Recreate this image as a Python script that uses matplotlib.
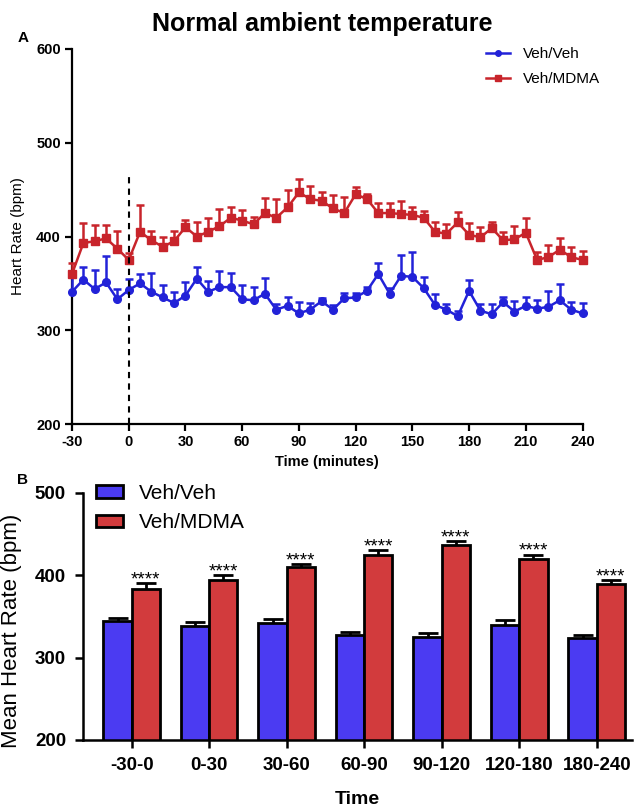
import numpy as np
import matplotlib
matplotlib.use("Agg")
import matplotlib.pyplot as plt
from matplotlib.lines import Line2D
from matplotlib.patches import Patch

plt.rcParams["font.family"] = ["Liberation Sans", "DejaVu Sans"]
plt.rcParams["axes.unicode_minus"] = False

# ---- Panel A: heart rate time course ----
time_min = [-30, -24, -18, -12, -6, 0, 6, 12, 18, 24, 30, 36, 42, 48, 54, 60,
            66, 72, 78, 84, 90, 96, 102, 108, 114, 120, 126, 132, 138, 144,
            150, 156, 162, 168, 174, 180, 186, 192, 198, 204, 210, 216, 222,
            228, 234, 240]

veh_veh_mean = [341, 354, 344, 351, 333, 343, 350, 341, 335, 329, 337, 355,
                341, 346, 346, 333, 332, 339, 322, 326, 318, 322, 331, 322,
                334, 335, 342, 360, 339, 358, 357, 345, 327, 322, 315, 342,
                321, 317, 330, 320, 326, 323, 325, 332, 322, 318]
veh_veh_sem = [22, 14, 20, 28, 11, 12, 10, 20, 13, 12, 14, 12, 12, 17, 15, 15,
               14, 17, 6, 10, 12, 7, 3, 5, 6, 5, 4, 12, 6, 22, 27, 12, 12, 6,
               6, 12, 7, 11, 5, 11, 10, 9, 17, 17, 8, 11]

veh_mdma_mean = [360, 393, 395, 398, 387, 375, 405, 396, 389, 395, 410, 400,
                 405, 411, 420, 417, 413, 425, 420, 431, 447, 440, 438, 430,
                 425, 445, 440, 425, 425, 424, 423, 420, 405, 403, 415, 402,
                 399, 409, 396, 397, 404, 375, 378, 386, 378, 375]
veh_mdma_sem = [12, 21, 17, 14, 19, 7, 29, 10, 11, 11, 8, 16, 15, 18, 11, 11,
                8, 16, 20, 19, 14, 14, 10, 14, 17, 8, 5, 11, 11, 14, 8, 7, 10,
                10, 11, 12, 11, 7, 9, 14, 16, 9, 13, 12, 11, 10]

# ---- Panel B: binned means ----
bins = ["-30-0", "0-30", "30-60", "60-90", "90-120", "120-180", "180-240"]
bin_veh_mean = [344, 338.5, 342, 327.5, 325.5, 339.5, 324]
bin_veh_sem = [4.5, 4.5, 4.5, 4, 4, 5.5, 3.5]
bin_mdma_mean = [383, 394, 410, 424, 437, 420, 389]
bin_mdma_sem = [7.5, 6, 4, 6, 4.5, 5, 5.5]
signif = ["****"] * 7

BLUE = "#2222d8"
RED = "#c8242b"
BAR_BLUE = "#4b3bf2"
BAR_RED = "#d23b3d"

W, H = 641, 810
fig = plt.figure(figsize=(W / 100, H / 100), dpi=100)


def frame(left, top, right, bottom):
    return [left / W, 1 - bottom / H, (right - left) / W, (bottom - top) / H]


def hide_lower_caps(caplines, base):
    for cl in caplines:
        if np.allclose(cl.get_ydata(), base):
            cl.set_visible(False)


# ================= Panel A =================
ax1 = fig.add_axes(frame(72, 49, 582.5, 424))
t = np.array(time_min)
for mean, sem, col, mk, ms, lab in [
    (veh_veh_mean, veh_veh_sem, BLUE, "o", 5.5, "Veh/Veh"),
    (veh_mdma_mean, veh_mdma_sem, RED, "s", 5.5, "Veh/MDMA"),
]:
    mean = np.array(mean, float)
    sem = np.array(sem, float)
    _, caps, bars = ax1.errorbar(t, mean, yerr=[np.zeros_like(sem), sem],
                                 fmt="none", ecolor=col, elinewidth=1.8,
                                 capsize=3, capthick=1.8, zorder=3)
    hide_lower_caps(caps, mean)
    for c in caps:
        c.set_clip_on(False)
    for b in bars:
        b.set_clip_on(False)
    ax1.plot(t, mean, color=col, lw=1.8, marker=mk, ms=ms, label=lab,
             zorder=4, clip_on=False)

ax1.plot([0, 0], [200, 463], color="black", lw=1.5, ls=(0, (3, 2.5)),
         zorder=5, clip_on=False)

ax1.set_xlim(-30, 240)
ax1.set_ylim(200, 600)
ax1.set_xticks(np.arange(-30, 241, 30))
ax1.set_yticks(np.arange(200, 601, 100))
for s in ["top", "right"]:
    ax1.spines[s].set_visible(False)
for s in ["left", "bottom"]:
    ax1.spines[s].set_linewidth(1.6)
ax1.tick_params(width=1.6, length=5, labelsize=10.5, pad=3)
for lbl in ax1.get_xticklabels() + ax1.get_yticklabels():
    lbl.set_fontweight("bold")
ax1.set_xlabel("Time (minutes)", fontsize=10.5, fontweight="bold", labelpad=4)
ax1.set_ylabel("Heart Rate (bpm)", fontsize=11)
ax1.yaxis.set_label_coords(-0.092, 0.5)

handles = [Line2D([], [], color=BLUE, marker="o", ms=4, lw=1.8),
           Line2D([], [], color=RED, marker="s", ms=4.5, lw=1.8)]
ax1.legend(handles, ["Veh/Veh", "Veh/MDMA"], loc="upper left",
           bbox_to_anchor=(486 / W, 1 - 47 / H), bbox_transform=fig.transFigure,
           frameon=False, fontsize=11, handlelength=1.6, handletextpad=0.8,
           labelspacing=0.75, borderpad=0, borderaxespad=0)

fig.text(322 / W, 1 - 24 / H, "Normal ambient temperature", ha="center",
         va="center", fontsize=18, fontweight="bold")
fig.text(23 / W, 1 - 38 / H, "A", ha="center", va="center", fontsize=11,
         fontweight="bold")

# ================= Panel B =================
ax2 = fig.add_axes(frame(82.7, 492.7, 632, 740))
x = np.arange(len(bins))
bw = 0.365
ax2.bar(x - bw / 2, bin_veh_mean, bw, color=BAR_BLUE, edgecolor="black",
        linewidth=2, zorder=2, label="Veh/Veh")
ax2.bar(x + bw / 2, bin_mdma_mean, bw, color=BAR_RED, edgecolor="black",
        linewidth=2, zorder=2, label="Veh/MDMA")
for xs, mean, sem in [(x - bw / 2, bin_veh_mean, bin_veh_sem),
                      (x + bw / 2, bin_mdma_mean, bin_mdma_sem)]:
    mean = np.array(mean, float)
    sem = np.array(sem, float)
    _, caps, _ = ax2.errorbar(xs, mean, yerr=[np.zeros_like(sem), sem],
                              fmt="none", ecolor="black", elinewidth=2,
                              capsize=7, capthick=2, zorder=3)
    hide_lower_caps(caps, mean)

for xi, m, s, star in zip(x + bw / 2, bin_mdma_mean, bin_mdma_sem, signif):
    ax2.annotate(star, xy=(xi, m + s), xytext=(0, -1),
                 textcoords="offset points", ha="center", va="baseline",
                 fontsize=13.5)

ax2.set_xlim(-0.632, 6.455)
ax2.set_ylim(200, 500)
ax2.set_xticks(x)
ax2.set_xticklabels(bins)
ax2.set_yticks([200, 300, 400, 500])
for s in ["top", "right"]:
    ax2.spines[s].set_visible(False)
for s in ["left", "bottom"]:
    ax2.spines[s].set_linewidth(1.8)
ax2.tick_params(width=1.8, length=6, labelsize=13.5, pad=6)
for lbl in ax2.get_xticklabels() + ax2.get_yticklabels():
    lbl.set_fontweight("bold")
ax2.set_ylabel("Mean Heart Rate (bpm)", fontsize=16)
ax2.yaxis.set_label_coords(-0.11, 0.44)

leg_handles = [Patch(facecolor=BAR_BLUE, edgecolor="black", linewidth=2),
               Patch(facecolor=BAR_RED, edgecolor="black", linewidth=2)]
ax2.legend(leg_handles, ["Veh/Veh", "Veh/MDMA"], loc="upper left",
           bbox_to_anchor=(96 / W, 1 - 484 / H), bbox_transform=fig.transFigure,
           frameon=False, fontsize=15, handlelength=1.3, handleheight=0.55,
           handletextpad=0.75, labelspacing=0.5, borderpad=0, borderaxespad=0)

fig.text(357 / W, 1 - 800 / H, "Time", ha="center", va="center",
         fontsize=14, fontweight="bold")
fig.text(23 / W, 1 - 480 / H, "B", ha="center", va="center", fontsize=11,
         fontweight="bold")

fig.savefig("out.png", dpi=100)
